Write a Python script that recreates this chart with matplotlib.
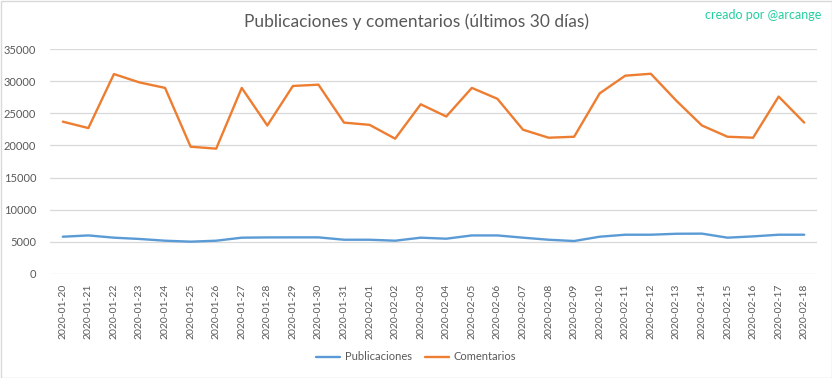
import numpy as np
import matplotlib.pyplot as plt
from matplotlib.patches import Rectangle

fechas = ["2020-01-20", "2020-01-21", "2020-01-22", "2020-01-23", "2020-01-24",
          "2020-01-25", "2020-01-26", "2020-01-27", "2020-01-28", "2020-01-29",
          "2020-01-30", "2020-01-31", "2020-02-01", "2020-02-02", "2020-02-03",
          "2020-02-04", "2020-02-05", "2020-02-06", "2020-02-07", "2020-02-08",
          "2020-02-09", "2020-02-10", "2020-02-11", "2020-02-12", "2020-02-13",
          "2020-02-14", "2020-02-15", "2020-02-16", "2020-02-17", "2020-02-18"]
publicaciones = [5800, 6000, 5650, 5450, 5180, 5030, 5180, 5650, 5690, 5700,
                 5700, 5330, 5330, 5180, 5650, 5490, 6000, 6000, 5650, 5330,
                 5130, 5800, 6110, 6110, 6260, 6280, 5650, 5850, 6110, 6110]
comentarios = [23700, 22700, 31100, 29800, 28950, 19800, 19500, 28950, 23100, 29250,
               29450, 23550, 23200, 21050, 26400, 24500, 28950, 27250, 22450, 21200,
               21350, 28100, 30850, 31150, 26950, 23100, 21350, 21200, 27600, 23550]

plt.rcParams['font.family'] = ['Lato', 'DejaVu Sans']
gris = '#595959'

fig = plt.figure(figsize=(8.32, 3.78), dpi=100)
ax = fig.add_axes([50/832, 1-274/378, 767/832, 225/378])

x = np.arange(len(fechas))
ax.plot(x, publicaciones, color='#5B9BD5', lw=1.7, label='Publicaciones', solid_capstyle='round')
ax.plot(x, comentarios, color='#ED7D31', lw=1.7, label='Comentarios', solid_capstyle='round')

ax.set_xlim(-0.5, len(fechas)-0.5)
ax.set_ylim(0, 35000)
ax.set_yticks(np.arange(0, 35001, 5000))
ax.set_xticks(x)
ax.set_xticklabels(fechas, rotation=90, fontsize=7.5, color=gris)
ax.tick_params(axis='y', labelsize=8, labelcolor=gris, length=0, pad=10)
ax.tick_params(axis='x', length=0, pad=7)
ax.grid(axis='y', color='#d9d9d9', lw=0.9)
ax.set_axisbelow(True)
for s in ax.spines.values():
    s.set_visible(False)

fig.text(0.5, 1-22/378, 'Publicaciones y comentarios (últimos 30 días)',
         ha='center', va='center', fontsize=12.5, color=gris)
fig.text(821/832, 1-15/378, 'creado por @arcange', ha='right', va='center',
         fontsize=9, color='#22cfa0')

fig.legend(loc='center', bbox_to_anchor=(0.5, 1-357/378), ncol=2, frameon=False,
           fontsize=8, labelcolor=gris, handlelength=2.2, columnspacing=1.2,
           handletextpad=0.4)

fig.patches.append(Rectangle((0.5/832, 0.5/378), 1-1/832, 1-1/378, transform=fig.transFigure,
                             fill=False, edgecolor='#d9d9d9', lw=1))

fig.savefig('out.png', dpi=100)
